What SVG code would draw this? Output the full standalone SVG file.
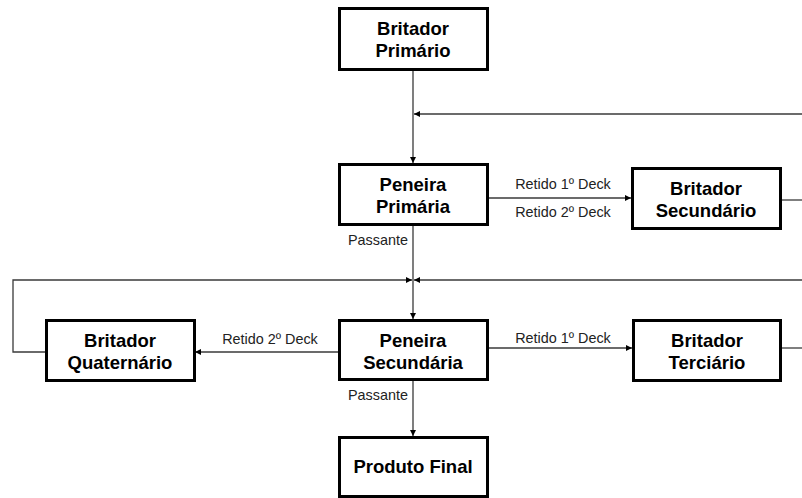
<svg xmlns="http://www.w3.org/2000/svg" width="802" height="498" viewBox="0 0 802 498">
  <style>
    .box { fill: #ffffff; stroke: #000000; stroke-width: 3; }
    .title { font-family: "Liberation Sans", Arial, sans-serif; font-size: 18.5px; font-weight: bold; fill: #000000; text-anchor: middle; }
    .lbl { font-family: "Liberation Sans", Arial, sans-serif; font-size: 14.4px; fill: #222222; }
    .wire { fill: none; stroke: #3a3a3a; stroke-width: 1.3; }
  </style>
  <defs>
    <marker id="arrow" viewBox="0 0 8 8" refX="8" refY="4" markerWidth="6" markerHeight="6" markerUnits="userSpaceOnUse" orient="auto">
      <path d="M0,0 L8,4 L0,8 Z" fill="#000000"/>
    </marker>
  </defs>

  <!-- connectors -->
  <g id="connectors">
    <!-- primary crusher to primary screen -->
    <path class="wire" d="M413,69 V163" marker-end="url(#arrow)"/>
    <!-- secondary crusher return -->
    <path class="wire" d="M802,114 H414" marker-end="url(#arrow)"/>
    <!-- primary screen to secondary crusher -->
    <path class="wire" d="M488,198 H631" marker-end="url(#arrow)"/>
    <path class="wire" d="M782,200 H802"/>
    <!-- passante primary to secondary screen -->
    <path class="wire" d="M413,224 V319" marker-end="url(#arrow)"/>
    <!-- quaternary return -->
    <path class="wire" d="M46,352 H13 V280 H412" marker-end="url(#arrow)"/>
    <!-- tertiary return -->
    <path class="wire" d="M802,280 H414" marker-end="url(#arrow)"/>
    <!-- secondary screen to tertiary -->
    <path class="wire" d="M488,348 H632" marker-end="url(#arrow)"/>
    <path class="wire" d="M782,348 H802"/>
    <!-- secondary screen to quaternary -->
    <path class="wire" d="M339,352 H195" marker-end="url(#arrow)"/>
    <!-- passante to final product -->
    <path class="wire" d="M413,380 V436" marker-end="url(#arrow)"/>

    <text class="lbl" x="563" y="189" text-anchor="middle">Retido 1º Deck</text>
    <text class="lbl" x="563" y="217" text-anchor="middle">Retido 2º Deck</text>
    <text class="lbl" x="408" y="245" text-anchor="end">Passante</text>
    <text class="lbl" x="270" y="344" text-anchor="middle">Retido 2º Deck</text>
    <text class="lbl" x="563" y="343" text-anchor="middle">Retido 1º Deck</text>
    <text class="lbl" x="408" y="400" text-anchor="end">Passante</text>
  </g>

  <g id="britador-primario">
    <rect class="box" x="339.5" y="8.5" width="148" height="61"/>
    <text class="title" x="413" y="35">Britador</text>
    <text class="title" x="413" y="57">Primário</text>
  </g>

  <g id="peneira-primaria">
    <rect class="box" x="339.5" y="164.5" width="148" height="60"/>
    <text class="title" x="413" y="191">Peneira</text>
    <text class="title" x="413" y="213">Primária</text>
  </g>

  <g id="britador-secundario">
    <rect class="box" x="632.5" y="168.5" width="148" height="60"/>
    <text class="title" x="706" y="195">Britador</text>
    <text class="title" x="706" y="217">Secundário</text>
  </g>

  <g id="britador-quaternario">
    <rect class="box" x="46.5" y="320.5" width="148" height="60"/>
    <text class="title" x="120" y="347">Britador</text>
    <text class="title" x="120" y="369">Quaternário</text>
  </g>

  <g id="peneira-secundaria">
    <rect class="box" x="339.5" y="320.5" width="148" height="59"/>
    <text class="title" x="413" y="347">Peneira</text>
    <text class="title" x="413" y="369">Secundária</text>
  </g>

  <g id="britador-terciario">
    <rect class="box" x="633.5" y="320.5" width="147" height="60"/>
    <text class="title" x="707" y="347">Britador</text>
    <text class="title" x="707" y="369">Terciário</text>
  </g>

  <g id="produto-final">
    <rect class="box" x="339.5" y="437.5" width="148" height="59"/>
    <text class="title" x="413" y="473">Produto Final</text>
  </g>
</svg>
